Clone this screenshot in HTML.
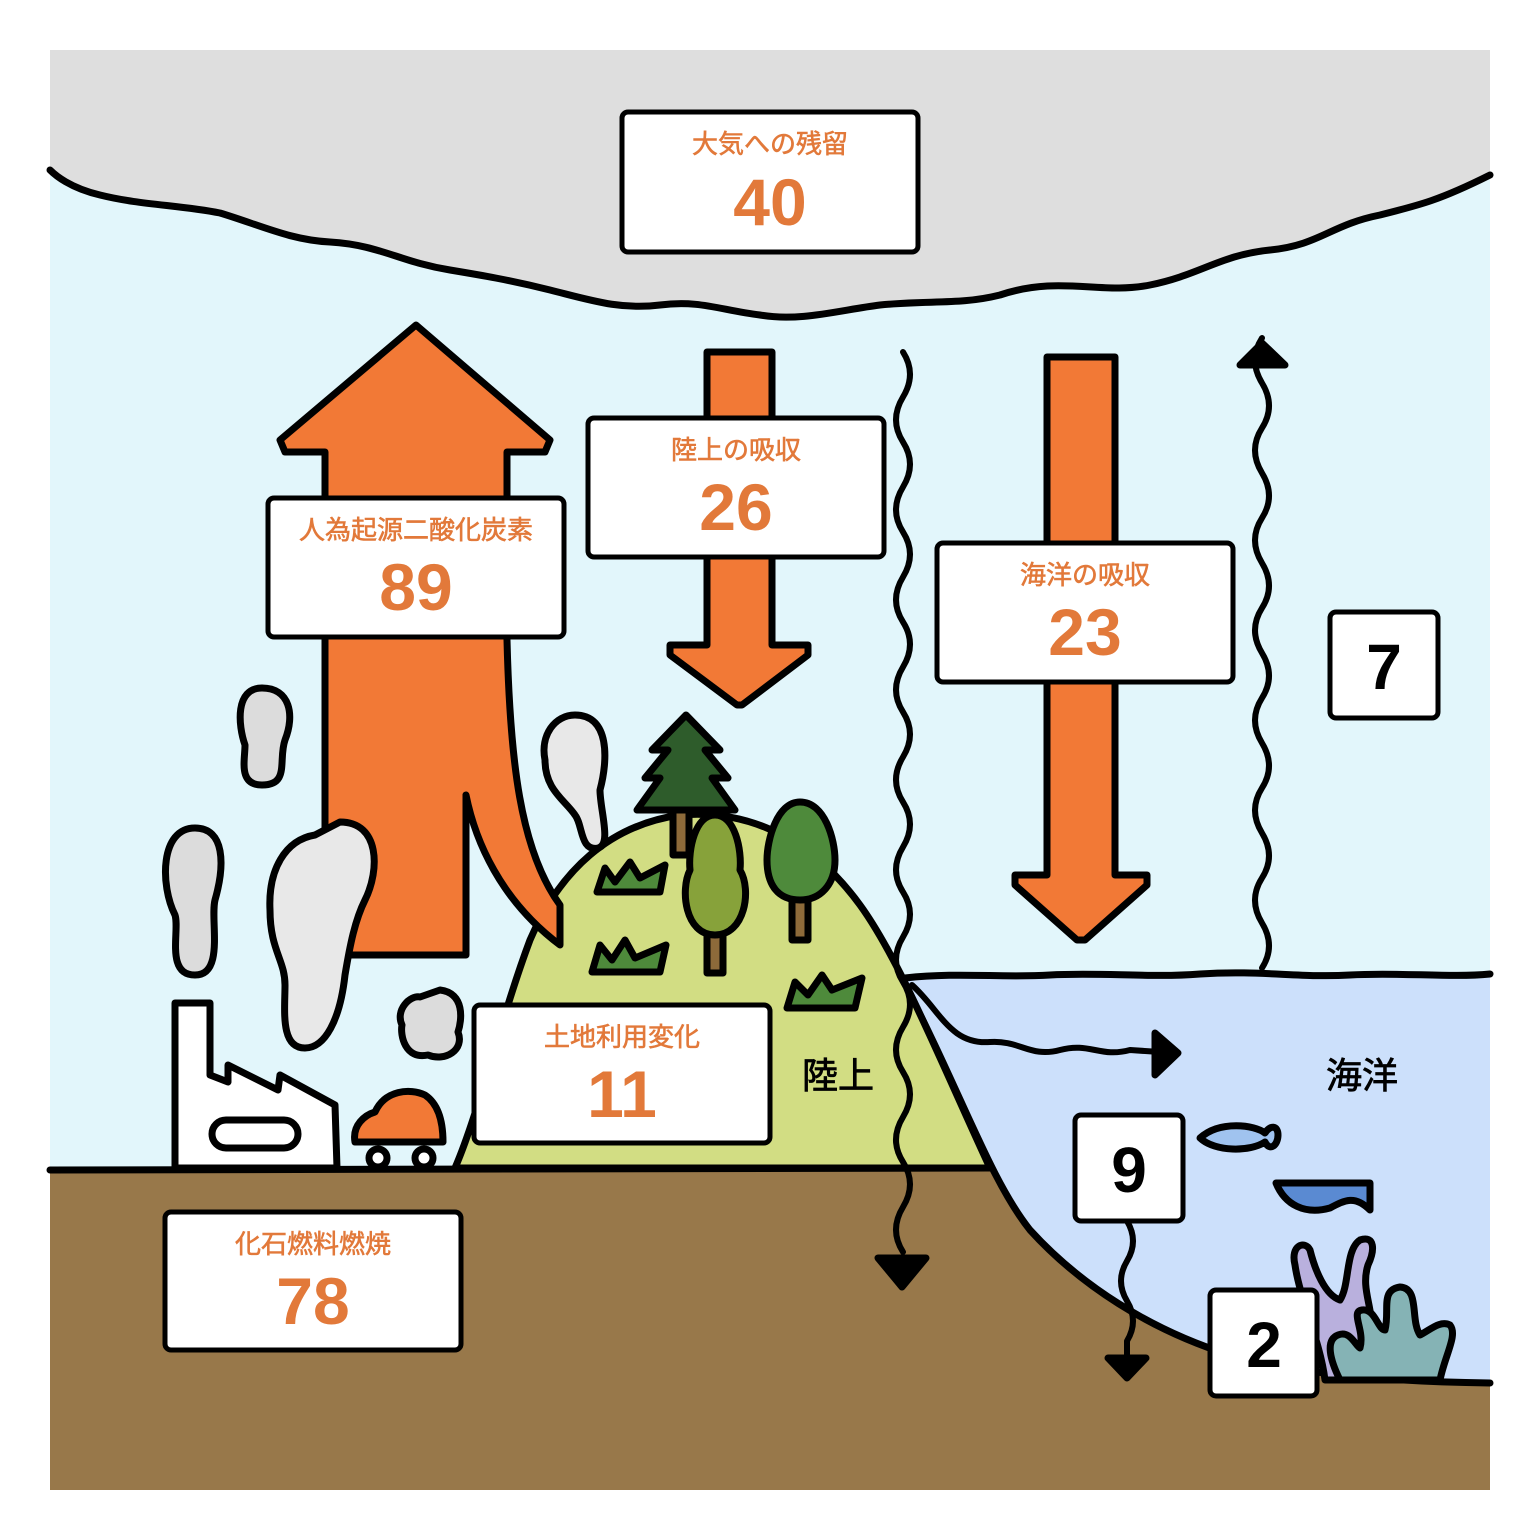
<!DOCTYPE html>
<html><head><meta charset="utf-8"><style>
html,body{margin:0;padding:0;background:#fff}
svg{display:block}
text{font-family:"Liberation Sans","Noto Sans CJK JP",sans-serif}
.lab{fill:#e2793a;font-size:26px;text-anchor:middle;stroke:#e2793a;stroke-width:0.6}
.num{fill:#e2793a;font-size:66px;font-weight:bold;text-anchor:middle}
.bn{fill:#000;font-size:64px;font-weight:bold;text-anchor:middle}
.bx{fill:#fff;stroke:#000;stroke-width:5}
.k{stroke:#000;stroke-width:7;stroke-linejoin:round;stroke-linecap:round}
.w{stroke-width:6}
</style></head><body>
<svg width="1540" height="1540" viewBox="0 0 1540 1540" xmlns="http://www.w3.org/2000/svg">
<rect x="50" y="50" width="1440" height="1440" fill="#e2f6fb"/>
<path d="M50,50 H1490 V175 C1440,200 1420,205 1380,215 C1330,225 1320,245 1270,250 C1220,255 1200,275 1150,285 C1100,295 1060,275 1000,295 C960,305 930,300 880,305 C840,310 800,322 760,315 C720,310 700,300 660,305 C620,310 590,300 550,290 C510,280 480,275 450,270 C400,262 380,245 330,242 C290,240 260,225 220,213 C180,205 140,205 100,195 C70,188 55,175 50,170 Z" fill="#dedede"/>
<path d="M50,170 C55,175 70,188 100,195 C140,205 180,205 220,213 C260,225 290,240 330,242 C380,245 400,262 450,270 C480,275 510,280 550,290 C590,300 620,310 660,305 C700,300 720,310 760,315 C800,322 840,310 880,305 C930,300 960,305 1000,295 C1060,275 1100,295 1150,285 C1200,275 1220,255 1270,250 C1320,245 1330,225 1380,215 C1420,205 1440,200 1490,175" fill="none" class="k"/>
<rect x="50" y="1170" width="1440" height="320" fill="#98784a"/>
<path d="M905,978 C960,972 1000,978 1050,975 C1100,972 1150,978 1200,974 C1260,970 1300,978 1350,975 C1400,972 1450,978 1490,974 V1383 C1400,1382 1300,1375 1230,1355 C1150,1330 1080,1285 1030,1230 C990,1180 960,1090 905,985 Z" fill="#cce0fb"/>
<path d="M905,978 C960,972 1000,978 1050,975 C1100,972 1150,978 1200,974 C1260,970 1300,978 1350,975 C1400,972 1450,978 1490,974" fill="none" class="k"/>
<path d="M1490,1383 C1400,1382 1300,1375 1230,1355 C1150,1330 1080,1285 1030,1230 C990,1180 960,1090 905,985" fill="none" class="k"/>
<path d="M455,1168 C480,1110 500,1020 530,940 C560,870 610,825 680,815 C760,808 820,850 860,905 C900,960 940,1060 990,1168 Z" fill="#d2dd83" class="k"/>
<line x1="50" y1="1170" x2="990" y2="1168" class="k"/>
<path d="M416,325 L550,440 L545,452 L507,452 L507,640 C510,760 520,850 560,905 L560,945 C500,900 475,840 466,795 L466,955 L325,955 L325,452 L285,452 L280,440 Z" fill="#f27936" class="k"/>
<path d="M707,352 L772,352 L772,645 L808,645 L808,655 L742,705 L737,705 L670,655 L670,645 L707,645 Z" fill="#f27936" class="k"/>
<path d="M1047,357 L1115,357 L1115,875 L1147,875 L1147,885 L1085,940 L1077,940 L1015,885 L1015,875 L1047,875 Z" fill="#f27936" class="k"/>
<g fill="#dcdcdc" class="k" stroke-width="8">
<path d="M262,688 C290,688 295,715 285,740 C278,760 290,785 262,785 C238,785 245,760 245,745 C238,725 235,688 262,688 Z"/>
<path d="M195,828 C225,828 225,865 215,900 C210,920 225,975 195,975 C165,975 180,930 175,915 C160,885 160,828 195,828 Z"/>
<path d="M340,822 C380,822 380,870 365,900 C355,920 350,945 345,975 C340,1020 325,1048 305,1048 C280,1048 285,1010 285,985 C285,960 270,950 270,910 C268,870 285,840 315,835 Z" fill="#e8e8e8"/>
<path d="M440,990 C465,993 462,1020 458,1032 C465,1050 445,1062 428,1055 C405,1060 400,1035 402,1025 C395,1010 410,995 420,997 Z"/>
<path d="M575,715 C610,715 608,760 600,790 C600,810 612,845 598,848 C580,852 583,825 575,815 C565,800 545,790 545,760 C540,735 555,715 575,715 Z" fill="#e8e8e8"/>
</g>
<path d="M175,1168 L175,1003 L210,1003 L210,1075 L228,1082 L228,1065 L278,1090 L280,1075 L335,1105 L337,1168 Z" fill="#fff" class="k" stroke-width="8"/>
<rect x="212" y="1120" width="86" height="28" rx="14" fill="#fff" class="k" stroke-width="8"/>
<path d="M355,1142 C352,1125 365,1115 375,1112 C385,1090 410,1088 425,1095 C440,1105 443,1125 443,1142 Z" fill="#f27936" class="k" stroke-width="8"/>
<circle cx="378" cy="1158" r="9" fill="#fff" class="k" stroke-width="5"/>
<circle cx="424" cy="1158" r="9" fill="#fff" class="k" stroke-width="5"/>
<rect x="673" y="810" width="16" height="45" fill="#8d6a3a" class="k" stroke-width="5"/>
<path d="M686,715 L720,750 L705,750 L728,778 L712,778 L735,810 L637,810 L660,778 L645,778 L668,750 L652,750 Z" fill="#2e5c2b" class="k"/>
<rect x="707" y="925" width="16" height="48" fill="#8d6a3a" class="k" stroke-width="5"/>
<path d="M715,815 C735,815 742,850 740,870 C752,890 745,935 715,935 C685,935 680,890 690,870 C688,850 695,815 715,815 Z" fill="#87a23a" class="k"/>
<rect x="792" y="895" width="16" height="45" fill="#8d6a3a" class="k" stroke-width="5"/>
<path d="M800,802 C825,802 835,840 835,860 C835,885 820,900 800,900 C778,900 767,885 767,860 C767,840 777,802 800,802 Z" fill="#4e8a3b" class="k"/>
<g fill="#4e8a3b" class="k" stroke-width="6">
<path d="M597,892 L605,868 L615,882 L630,862 L640,878 L665,865 L660,892 Z"/>
<path d="M592,972 L600,945 L612,960 L625,940 L635,958 L666,945 L660,972 Z"/>
<path d="M787,1008 L795,982 L808,995 L822,975 L832,990 L862,978 L855,1008 Z"/>
</g>
<path d="M1200,1138 C1220,1120 1255,1125 1265,1133 C1270,1125 1278,1125 1278,1135 C1278,1145 1270,1152 1265,1142 C1250,1152 1215,1152 1200,1138 Z" fill="#a0c3ef" class="k" stroke-width="7"/>
<path d="M1276,1183 L1370,1183 L1370,1210 C1355,1195 1345,1200 1330,1208 C1305,1215 1285,1205 1276,1183 Z" fill="#5a8ad2" class="k" stroke-width="7"/>
<path d="M1295,1265 C1290,1245 1305,1240 1310,1250 C1315,1270 1325,1295 1340,1300 C1350,1285 1345,1250 1360,1240 C1375,1235 1375,1250 1368,1265 C1360,1290 1375,1310 1370,1330 L1360,1380 L1325,1380 C1320,1340 1300,1300 1295,1265 Z" fill="#b9b0dd" class="k"/>
<path d="M1340,1380 C1330,1360 1325,1340 1338,1335 C1350,1330 1355,1345 1360,1348 C1365,1330 1350,1312 1362,1310 C1375,1308 1378,1330 1385,1330 C1390,1310 1380,1290 1400,1287 C1420,1288 1410,1320 1420,1335 C1430,1330 1440,1320 1450,1325 C1458,1335 1445,1355 1440,1380 Z" fill="#85b3b5" class="k"/>
<path d="M903,352 q14,22 0,45 t0,45 t0,45 t0,45 t0,45 t0,45 t0,45 t0,45 t0,45 t0,45 t0,45 t0,45 t0,45 t0,45 t0,45 t0,45 t0,45 t0,45 t0,45 t0,45" fill="none" class="k w"/>
<path d="M878,1258 L926,1258 L902,1287 Z" fill="#000" class="k"/>
<path d="M1262,968 q14,-22 0,-45 t0,-45 t0,-45 t0,-45 t0,-45 t0,-45 t0,-45 t0,-45 t0,-45 t0,-45 t0,-45 t0,-45 t0,-45 t0,-45" fill="none" class="k w"/>
<path d="M1240,365 L1285,365 L1262,343 Z" fill="#000" class="k"/>
<path d="M912,985 C940,1010 950,1045 990,1042 C1020,1040 1030,1058 1060,1050 C1090,1042 1100,1058 1130,1050 L1160,1052" fill="none" class="k w"/>
<path d="M1155,1033 L1178,1053 L1155,1075 Z" fill="#000" class="k"/>
<path d="M1127,1221 q12,20 0,40 t0,40 t0,40 L1127,1360" fill="none" class="k w"/>
<path d="M1108,1358 L1146,1358 L1127,1378 Z" fill="#000" class="k"/>
<rect class="bx" x="622" y="112" width="296" height="140" rx="6"/>
<text class="lab" x="770" y="153">大気への残留</text><text class="num" x="770" y="225">40</text>
<rect class="bx" x="268" y="498" width="296" height="139" rx="6"/>
<text class="lab" x="416" y="539">人為起源二酸化炭素</text><text class="num" x="416" y="610">89</text>
<rect class="bx" x="588" y="418" width="296" height="139" rx="6"/>
<text class="lab" x="736" y="459">陸上の吸収</text><text class="num" x="736" y="530">26</text>
<rect class="bx" x="937" y="543" width="296" height="139" rx="6"/>
<text class="lab" x="1085" y="584">海洋の吸収</text><text class="num" x="1085" y="655">23</text>
<rect class="bx" x="474" y="1005" width="296" height="138" rx="6"/>
<text class="lab" x="622" y="1046">土地利用変化</text><text class="num" x="622" y="1117">11</text>
<rect class="bx" x="165" y="1212" width="296" height="138" rx="6"/>
<text class="lab" x="313" y="1253">化石燃料燃焼</text><text class="num" x="313" y="1324">78</text>
<rect class="bx" x="1330" y="612" width="108" height="106" rx="6"/>
<text class="bn" x="1384" y="689">7</text>
<rect class="bx" x="1075" y="1115" width="108" height="106" rx="6"/>
<text class="bn" x="1129" y="1192">9</text>
<rect class="bx" x="1210" y="1290" width="107" height="106" rx="6"/>
<text class="bn" x="1264" y="1367">2</text>
<text x="838" y="1088" font-size="36" text-anchor="middle" stroke="#000" stroke-width="0.8">陸上</text>
<text x="1362" y="1088" font-size="36" text-anchor="middle" stroke="#000" stroke-width="0.8">海洋</text>
</svg>
</body></html>
